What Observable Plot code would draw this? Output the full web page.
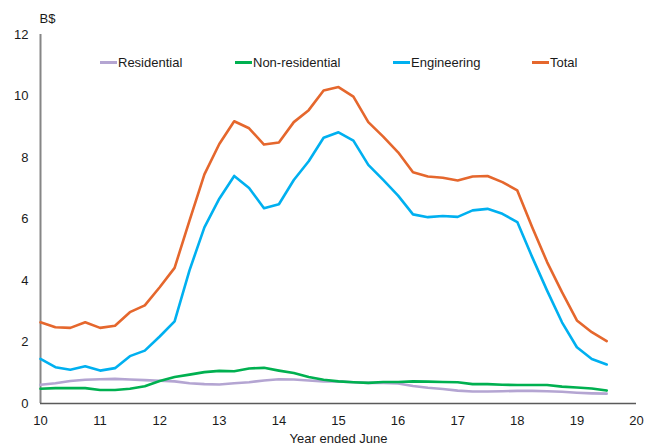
<!DOCTYPE html>
<html>
<head>
<meta charset="utf-8">
<script src="https://cdn.jsdelivr.net/npm/d3@7"></script>
<script src="https://cdn.jsdelivr.net/npm/@observablehq/plot@0.6"></script>
<style>
  body { margin: 0; background: #fff; }
  #wrap { position: relative; width: 656px; height: 446px; font-family: "Liberation Sans", Arial, sans-serif; }
  .leg { position: absolute; top: 55px; display: flex; align-items: center; font-size: 13px; color: #1a1a1a; white-space: nowrap; }
  .leg span.sw { display: inline-block; width: 17px; height: 3px; margin-right: 1px; }
</style>
</head>
<body>
<div id="wrap"></div>
<script>
const quarters = [10, 10.25, 10.5, 10.75, 11, 11.25, 11.5, 11.75, 12, 12.25, 12.5, 12.75, 13, 13.25, 13.5, 13.75,
  14, 14.25, 14.5, 14.75, 15, 15.25, 15.5, 15.75, 16, 16.25, 16.5, 16.75, 17, 17.25, 17.5, 17.75,
  18, 18.25, 18.5, 18.75, 19, 19.25, 19.5];

const residential = [0.61, 0.66, 0.73, 0.77, 0.79, 0.80, 0.78, 0.76, 0.74, 0.72, 0.66, 0.63, 0.62, 0.66, 0.69, 0.75,
  0.79, 0.78, 0.75, 0.72, 0.72, 0.69, 0.67, 0.67, 0.65, 0.57, 0.51, 0.47, 0.42, 0.39, 0.39, 0.40,
  0.41, 0.41, 0.40, 0.38, 0.35, 0.33, 0.32];

const nonResidential = [0.48, 0.50, 0.50, 0.50, 0.44, 0.44, 0.48, 0.56, 0.73, 0.86, 0.94, 1.02, 1.06, 1.05, 1.14, 1.16,
  1.07, 0.99, 0.86, 0.77, 0.72, 0.69, 0.67, 0.70, 0.70, 0.72, 0.71, 0.70, 0.69, 0.63, 0.63, 0.61,
  0.60, 0.60, 0.60, 0.55, 0.52, 0.49, 0.42];

const engineering = [1.45, 1.18, 1.10, 1.21, 1.07, 1.15, 1.54, 1.72, 2.18, 2.67, 4.33, 5.73, 6.66, 7.40, 7.01, 6.35,
  6.48, 7.27, 7.88, 8.64, 8.82, 8.55, 7.76, 7.27, 6.76, 6.15, 6.06, 6.10, 6.07, 6.28, 6.33, 6.17,
  5.90, 4.76, 3.67, 2.64, 1.83, 1.45, 1.27];

const total = [2.64, 2.48, 2.46, 2.64, 2.46, 2.53, 2.97, 3.19, 3.78, 4.41, 5.95, 7.45, 8.44, 9.18, 8.95, 8.42,
  8.49, 9.15, 9.54, 10.18, 10.29, 9.98, 9.15, 8.68, 8.17, 7.52, 7.38, 7.34, 7.25, 7.38, 7.40, 7.20,
  6.93, 5.73, 4.60, 3.62, 2.70, 2.32, 2.03];

const seriesNames = ["Residential", "Non-residential", "Engineering", "Total"];
const seriesValues = [residential, nonResidential, engineering, total];
const seriesColors = ["#b4a5d2", "#00b050", "#00b0f0", "#e5672d"];

const xTicks = [10, 11, 12, 13, 14, 15, 16, 17, 18, 19, 20];
const yTicks = [0, 2, 4, 6, 8, 10, 12];
const yUnit = "B$";
const xTitle = "Year ended June";

const rows = [];
seriesNames.forEach((name, i) => {
  seriesValues[i].forEach((v, j) => rows.push({series: name, x: quarters[j], y: v}));
});

const chart = Plot.plot({
  width: 656,
  height: 446,
  marginLeft: 40,
  marginRight: 20,
  marginTop: 34,
  marginBottom: 43,
  style: {fontFamily: "'Liberation Sans', Arial, sans-serif", fontSize: "13px", color: "#1a1a1a", background: "white"},
  x: {domain: [10, 20]},
  y: {domain: [0, 12]},
  color: {domain: seriesNames, range: seriesColors},
  marks: [
    Plot.axisY({ticks: yTicks, tickSize: 0, tickPadding: 12, label: null, fontSize: 13}),
    Plot.axisX({ticks: xTicks, tickSize: 0, tickPadding: 12, label: null, tickFormat: d => String(d), fontSize: 13}),
    Plot.ruleX([10], {stroke: "#868686", strokeWidth: 2}),
    Plot.ruleY([0], {stroke: "#5a5a5a", strokeWidth: 1.5}),
    Plot.line(rows, {x: "x", y: "y", z: "series", stroke: "series", strokeWidth: 2.6, strokeLinejoin: "round"}),
    Plot.text([yUnit], {frameAnchor: "top-left", textAnchor: "start", lineAnchor: "top", dy: -21, dx: -1, fontSize: 13}),
    Plot.text([xTitle], {frameAnchor: "bottom", textAnchor: "middle", lineAnchor: "top", dy: 30, fontSize: 13})
  ]
});

const wrap = document.getElementById("wrap");
wrap.appendChild(chart);

const legendLefts = [100, 235, 393, 532];
seriesNames.forEach((name, i) => {
  const d = document.createElement("div");
  d.className = "leg";
  d.style.left = legendLefts[i] + "px";
  const sw = document.createElement("span");
  sw.className = "sw";
  sw.style.background = seriesColors[i];
  d.appendChild(sw);
  d.appendChild(document.createTextNode(name));
  wrap.appendChild(d);
});
</script>
</body>
</html>
